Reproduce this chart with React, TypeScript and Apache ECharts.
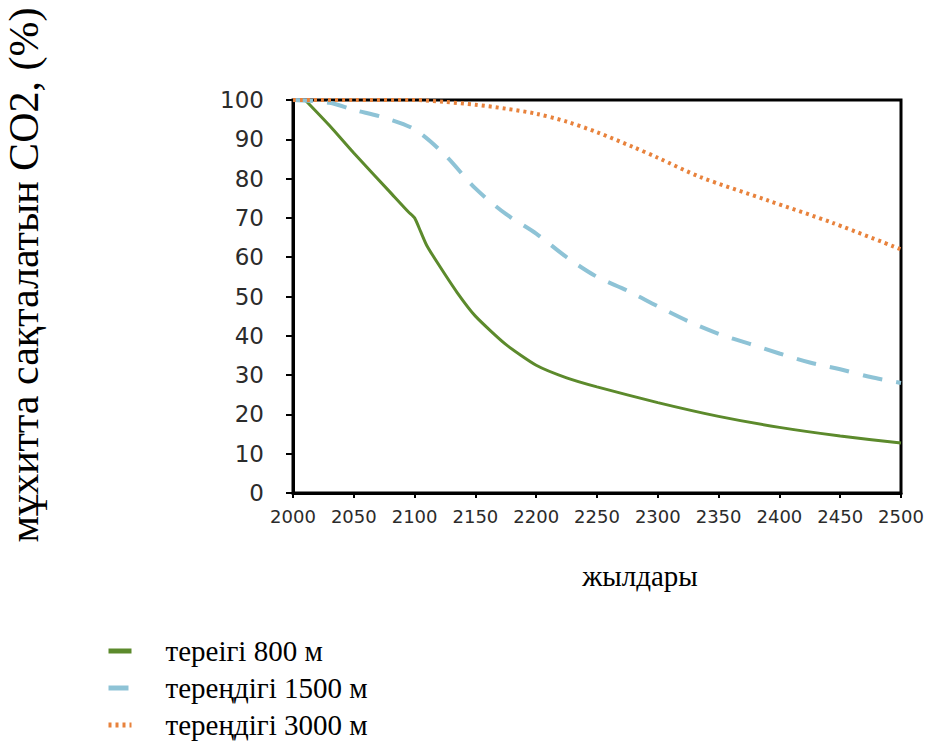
import React, { useEffect, useRef } from "react";
import * as echarts from "echarts";

const seriesNames = ["тереігі 800 м", "тереңдігі 1500 м", "тереңдігі 3000 м"];

const green800: [number, number][] = [
  [2010, 100], [2030, 93.5], [2050, 86.5], [2080, 76.5], [2095, 71.5], [2100, 70],
  [2105, 66.5], [2110, 63], [2120, 58], [2135, 51], [2150, 45], [2175, 37.8],
  [2200, 32.5], [2225, 29.3], [2250, 27], [2300, 23], [2350, 19.5], [2400, 16.7],
  [2450, 14.5], [2500, 12.7],
];

const blue1500: [number, number][] = [
  [2000, 100], [2030, 99.3], [2050, 97.5], [2075, 95.5], [2100, 92.5], [2125, 86],
  [2150, 77.5], [2175, 71], [2200, 66], [2225, 60], [2250, 55], [2275, 51.5],
  [2300, 47.5], [2325, 43.7], [2350, 40.5], [2375, 38], [2400, 35.5], [2425, 33.2],
  [2450, 31.5], [2475, 29.5], [2500, 28],
];

const orange3000: [number, number][] = [
  [2000, 100], [2050, 100], [2100, 100], [2125, 99.5], [2150, 98.8], [2175, 97.8],
  [2200, 96.5], [2225, 94.5], [2250, 91.8], [2280, 88], [2300, 85.3], [2335, 80.4],
  [2390, 74.5], [2444, 68.7], [2500, 62],
];

const yTitle = "мұхитта сақталатын CO2, (%)";
const xTitle = "жылдары";

export default function App() {
  const ref = useRef<HTMLDivElement>(null);
  useEffect(() => {
    if (!ref.current) return;
    const chart = echarts.init(ref.current, undefined, { renderer: "svg" });
    const serif = "'Liberation Serif', 'DejaVu Serif', serif";
    chart.setOption({
      animation: false,
      backgroundColor: "#fff",
      grid: {
        left: 293, right: 48, top: 100, bottom: 249,
        show: true, borderColor: "#000", borderWidth: 3, containLabel: false,
      },
      xAxis: {
        type: "value", min: 2000, max: 2500, interval: 50,
        axisLine: { show: true, lineStyle: { color: "#000", width: 3 } },
        axisTick: { show: true, inside: false, length: 5, lineStyle: { color: "#000", width: 2 } },
        axisLabel: {
          color: "#2b2b2b", fontFamily: "'DejaVu Sans', sans-serif", fontSize: 18, margin: 14,
          formatter: (v: number) => String(v),
        },
        splitLine: { show: false },
      },
      yAxis: {
        type: "value", min: 0, max: 100, interval: 10,
        axisLine: { show: true, lineStyle: { color: "#000", width: 3 } },
        axisTick: { show: true, inside: false, length: 7, lineStyle: { color: "#000", width: 2 } },
        axisLabel: { color: "#2b2b2b", fontFamily: "'DejaVu Sans', sans-serif", fontSize: 23, margin: 29 },
        splitLine: { show: false },
      },
      legend: {
        orient: "vertical", left: 106, top: 636, padding: 0, height: 110,
        itemWidth: 23, itemHeight: 14, itemGap: 7,
        itemStyle: { color: "transparent", borderColor: "transparent", borderWidth: 0, opacity: 0 },
        lineStyle: { width: 5 },
        textStyle: { fontFamily: serif, fontSize: 29, lineHeight: 30, color: "#000", padding: [0, 0, 0, 29] },
        data: seriesNames,
      },
      graphic: [
        {
          type: "text", x: 24, y: 275, rotation: Math.PI / 2,
          style: {
            text: yTitle, fontFamily: serif, fontSize: 42, fill: "#000",
            align: "center", verticalAlign: "middle",
          },
        },
        {
          type: "text", x: 640, y: 576,
          style: {
            text: xTitle, fontFamily: serif, fontSize: 29, fill: "#000",
            align: "center", verticalAlign: "middle",
          },
        },
      ],
      series: [
        {
          name: seriesNames[0], type: "line", data: green800, showSymbol: false, symbol: "none",
          smooth: 0.2, lineStyle: { color: "#5c8a2c", width: 3 }, itemStyle: { color: "#5c8a2c" },
        },
        {
          name: seriesNames[1], type: "line", data: blue1500, showSymbol: false, symbol: "none",
          smooth: 0.3, lineStyle: { color: "#8ec3d6", width: 4, type: [20, 14] }, itemStyle: { color: "#8ec3d6" },
        },
        {
          name: seriesNames[2], type: "line", data: orange3000, showSymbol: false, symbol: "none",
          smooth: 0.3, lineStyle: { color: "#e8823c", width: 4, type: [3, 4] }, itemStyle: { color: "#e8823c" },
        },
      ],
    });
    return () => chart.dispose();
  }, []);
  return <div ref={ref} style={{ width: 949, height: 742, position: "absolute", left: 0, top: 0 }} />;
}
